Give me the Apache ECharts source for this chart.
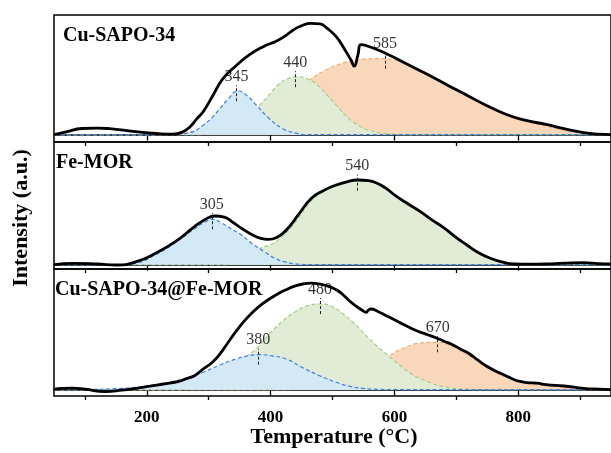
<!DOCTYPE html>
<html>
<head>
<meta charset="utf-8">
<script src="https://cdn.jsdelivr.net/npm/echarts@6/dist/echarts.min.js"></script>
<style>html,body{margin:0;padding:0;background:#fff;}#c{width:611px;height:453px;}</style>
</head>
<body>
<div id="c"></div>
<script>
// ---------- data (temperature °C, intensity a.u. above each panel's baseline) ----------
const panelNames = ['Cu-SAPO-34', 'Fe-MOR', 'Cu-SAPO-34@Fe-MOR'];
const majorTicks = [200, 400, 600, 800];
const minorTicks = [100, 300, 500, 700, 900];

// Panel 1: Cu-SAPO-34
const cuTotal = [[50,0],[70,2.8],[95,6.2],[120,6.6],[140,6],[162,4.5],[189,2.5],[215,1.2],[242,0.5],[258,2.8],[270,8],[281,16],[291,23],[307,39.5],[323,56],[345,69.5],[366,80],[388,88],[409,93.5],[422,98],[436,104.5],[450,109],[465,111.3],[480,110.8],[492,106],[506,98],[519,86],[530,74.5],[535,68.5],[541,79.5],[546,90],[560,88],[587,81],[613,73],[640,64.5],[656,59.5],[686,49.5],[717,39.5],[748,29.5],[780,20.5],[811,14.5],[843,10.5],[874,6],[906,2],[930,0.5],[950,0]];
const cuBlue = [[50,0],[230,0],[250,0.5],[270,2],[291,9.5],[305,17],[318,26],[332,36],[347,43.7],[362,39],[377,29.5],[398,16],[420,6],[441,1.5],[460,0],[950,0]];
const cuGreen = [[50,0],[280,0],[300,1],[320,3],[340,7],[360,15],[380,28],[398,40],[414,51],[428,56],[444,58],[462,55],[479,48],[492,39],[506,29.5],[520,20],[533,13],[547,7.5],[560,4],[580,1.5],[600,0.3],[620,0],[950,0]];
const cuOrange = [[50,0],[220,0],[250,1.5],[300,6],[350,15],[400,30],[430,42],[463,55],[490,65],[522,72.5],[550,75.5],[575,76],[600,75],[620,71],[640,64],[656,59],[686,49],[717,39],[748,29],[780,20],[811,13.5],[843,9],[874,4.5],[906,1.5],[930,0.3],[950,0]];
const cuPeaks = [345, 440, 585];
const cuPeakH = [43.5, 57.5, 76];

// Panel 2: Fe-MOR
const feTotal = [[50,0],[82,1.4],[120,0.7],[152,-0.3],[183,3],[214,11.4],[246,23],[277,38],[295,45.5],[310,48.7],[325,47.6],[340,42],[353,36.4],[370,30],[384,26.4],[396,25.3],[403,25.7],[415,29],[428,36.4],[445,50],[466,66.4],[485,74],[503,79],[520,82.3],[541,84.7],[558,84],[572,81.5],[585,77],[604,68],[623,60.5],[642,53],[660,45],[679,37.4],[698,28],[717,19.7],[736,12],[755,6.4],[775,2.5],[793,0.7],[820,0.5],[843,0.7],[875,1.5],[906,2],[930,1],[950,0.7]];
const feBlue = [[50,0],[160,0],[183,1.5],[214,10],[246,22],[277,36],[295,43],[306,45.4],[320,42],[336,36],[353,29.7],[370,21],[390,13],[405,7],[422,3],[447,0.5],[470,0],[950,0]];
const feGreen = [[50,0],[320,0],[345,4],[371,13],[385,17],[403,21],[418,28],[434,38],[450,51],[466,64],[485,73],[503,78.5],[520,82],[543,84],[560,83],[585,76],[604,68],[623,60],[642,52.5],[660,44.5],[679,37],[698,27.5],[717,19.3],[736,11.5],[755,6],[775,2.2],[800,0.3],[820,0],[950,0]];
const fePeaks = [305, 540];
const fePeakH = [45.4, 84];

// Panel 3: Cu-SAPO-34@Fe-MOR
const bothTotal = [[50,0.4],[63,1.4],[80,1.6],[100,0.5],[133,-2],[160,-0.5],[183,1.4],[205,3.5],[227,5.7],[250,8],[264,11],[277,14],[291,20.7],[305,27],[318,35.7],[331,47],[345,59],[358,69],[371,77.4],[385,85],[398,90.7],[412,96],[425,100],[439,103.5],[452,105.7],[466,106.5],[479,105.7],[493,103.5],[506,100],[517,95],[527,89],[538,83.5],[549,79],[554,77.4],[558,79.5],[562,80.7],[574,78],[587,74],[600,70],[613,65.7],[627,61.5],[640,58],[654,55],[667,52],[680,48.5],[694,45],[707,40.5],[721,36],[735,29.5],[748,24],[764,18.5],[780,14],[790,11],[801,8.5],[815,7],[830,6.5],[845,5],[874,3.7],[906,1.4],[930,0.5],[950,0]];
const bothBlue = [[50,0],[100,0.2],[150,1],[183,2.5],[210,4.5],[237,7.4],[264,12],[291,17.4],[318,24.7],[345,31],[365,34],[382,35],[400,34],[425,30.7],[452,22],[479,14],[506,7.4],[527,3.5],[549,1.3],[575,0.3],[600,0],[950,0]];
const bothGreen = [[50,0],[250,0],[280,3],[300,7],[320,14],[345,25],[365,35],[377,41],[398,55.7],[420,69],[440,78],[460,84],[482,85.7],[500,83],[517,76],[533,67.4],[547,59],[560,50.7],[573,43],[587,35.7],[600,29],[613,22.4],[627,16],[642,11],[656,7.4],[675,3.5],[694,1.7],[720,0.3],[740,0],[950,0]];
const bothOrange = [[50,0],[420,0],[450,1],[480,3],[500,5],[525,9],[550,15],[570,22],[589,32],[600,37],[613,41],[627,44.5],[640,46.5],[667,47.4],[680,46.5],[694,43.5],[707,39],[721,34],[735,28],[748,22.5],[764,17],[780,13],[801,8],[815,6],[830,5],[845,4],[874,2.5],[906,1],[930,0.3],[950,0]];
const bothPeaks = [380, 480, 670];
const bothPeakH = [35, 85.7, 47.4];

// y ranges of each panel (below-baseline, above-baseline)
const yRanges = [[-7.3, 119.7], [-4.3, 122.7], [-6.3, 120.7]];

// ---------- chart ----------
const SERIF = "'Liberation Serif','Times New Roman',serif";
const gridTops = [15, 142, 269];
const PH = 127;

const C = {
  blue: {line: '#3b84e0', fill: '#d4e9f6'},
  green: {line: '#a6cf8a', fill: '#e0ecd6'},
  orange: {line: '#f2ae78', fill: '#f9d7ba'}
};

const grids = gridTops.map(t => ({left: 54, right: -2, top: t, height: PH, show: true, borderColor: '#000', borderWidth: 1.5, backgroundColor: 'transparent'}));

const xAxes = [];
gridTops.forEach((t, i) => {
  xAxes.push({
    type: 'value', gridIndex: i, position: 'bottom', min: 50, max: 950,
    axisLine: {show: true, lineStyle: {color: '#000', width: 1.5}},
    axisTick: {show: true, inside: false, length: 6, customValues: majorTicks, lineStyle: {color: '#000', width: 1.3}},
    splitLine: {show: false},
    axisLabel: {show: i === 2, customValues: majorTicks, color: '#000', fontFamily: SERIF, fontWeight: 'bold', fontSize: 17, margin: 13}
  });
});
gridTops.forEach((t, i) => {
  xAxes.push({
    type: 'value', gridIndex: i, position: 'bottom', min: 50, max: 950,
    axisLine: {show: false},
    axisTick: {show: true, inside: false, length: 4, customValues: minorTicks, lineStyle: {color: '#000', width: 1.3}},
    splitLine: {show: false},
    axisLabel: {show: false}
  });
});
const yAxes = yRanges.map((r, i) => ({type: 'value', gridIndex: i, min: r[0], max: r[1], show: false}));

function comp(data, col, i, z) {
  return {
    type: 'line', xAxisIndex: i, yAxisIndex: i, data: data, smooth: 0.5, symbol: 'none', z: z,
    lineStyle: {color: col.line, width: 1.2, type: [4, 2.5]},
    areaStyle: {color: col.fill, opacity: 1},
    silent: true
  };
}
function total(data, i) {
  return {type: 'line', xAxisIndex: i, yAxisIndex: i, data: data, smooth: 0.5, symbol: 'none', z: 10,
    lineStyle: {color: '#000', width: 2.8}, silent: true};
}
function markers(peaks, heights, i) {
  return [{
    type: 'lines', coordinateSystem: 'cartesian2d', xAxisIndex: i, yAxisIndex: i, z: 12, silent: true,
    lineStyle: {color: '#222', width: 1, type: [3, 2], opacity: 1},
    data: peaks.map((p, k) => ({coords: [[p, heights[k] - 10], [p, heights[k] + 6]]}))
  }, {
    type: 'scatter', xAxisIndex: i, yAxisIndex: i, z: 13, silent: true, symbolSize: 1,
    itemStyle: {color: 'rgba(0,0,0,0)'},
    data: peaks.map((p, k) => [p, heights[k] + 6]),
    label: {show: true, position: 'top', distance: 0, formatter: d => String(d.value[0]),
      color: '#000', fontFamily: SERIF, fontSize: 16}
  }];
}

const series = [
  comp(cuOrange, C.orange, 0, 2), comp(cuGreen, C.green, 0, 3), comp(cuBlue, C.blue, 0, 4), total(cuTotal, 0),
  ...markers(cuPeaks, cuPeakH, 0),
  comp(feGreen, C.green, 1, 3), comp(feBlue, C.blue, 1, 4), total(feTotal, 1),
  ...markers(fePeaks, fePeakH, 1),
  comp(bothOrange, C.orange, 2, 2), comp(bothGreen, C.green, 2, 3), comp(bothBlue, C.blue, 2, 4), total(bothTotal, 2),
  ...markers(bothPeaks, bothPeakH, 2)
];

const panelTextPos = [[63, 37], [56, 164], [55, 291]];
const graphic = panelNames.map((n, i) => ({
  type: 'text', left: panelTextPos[i][0], top: panelTextPos[i][1] - 11, z: 20,
  style: {text: n, fill: '#000', font: 'bold 20px ' + SERIF}
}));
graphic.push({
  type: 'text', x: 334, y: 437, z: 20,
  style: {text: 'Temperature (°C)', fill: '#000', font: 'bold 22px ' + SERIF, textAlign: 'center', textVerticalAlign: 'middle'}
});
graphic.push({
  type: 'text', x: 21, y: 218, rotation: Math.PI / 2, z: 20,
  style: {text: 'Intensity (a.u.)', fill: '#000', font: 'bold 22px ' + SERIF, textAlign: 'center', textVerticalAlign: 'middle'}
});

const chart = echarts.init(document.getElementById('c'), null, {renderer: 'canvas'});
chart.setOption({
  animation: false,
  backgroundColor: '#fff',
  grid: grids,
  xAxis: xAxes,
  yAxis: yAxes,
  series: series,
  graphic: graphic
});
</script>
</body>
</html>
